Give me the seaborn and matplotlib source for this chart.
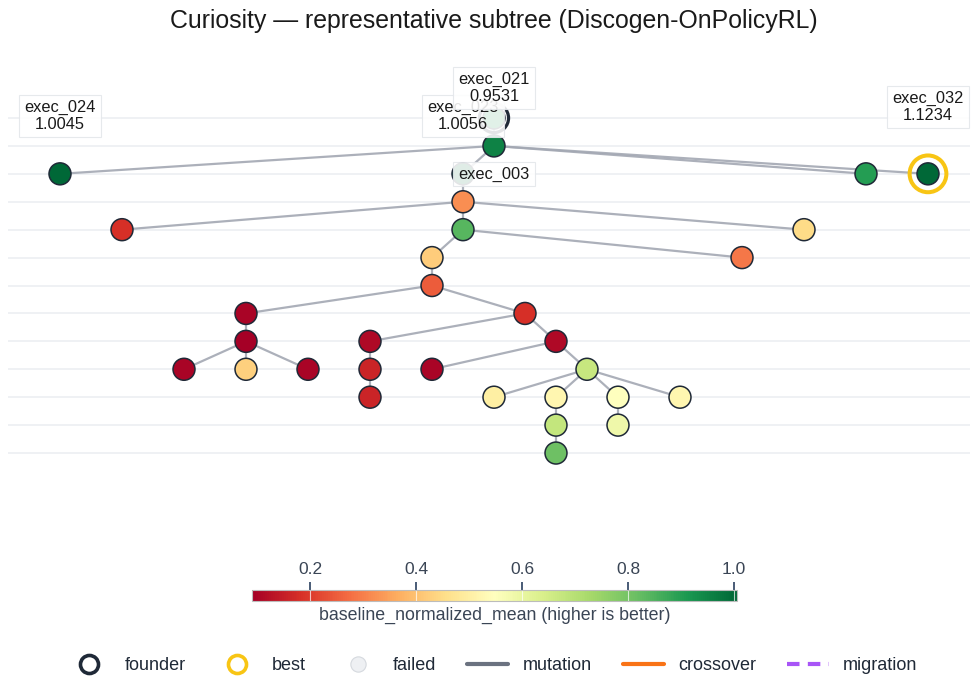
import matplotlib
matplotlib.use("Agg")
import matplotlib.pyplot as plt
from matplotlib.colors import Normalize
from matplotlib.cm import ScalarMappable
from matplotlib.lines import Line2D
import seaborn as sns
import pandas as pd

# tree data (child order = list order)
nodes = ["exec_003", "exec_021", "exec_024", "exec_023", "exec_005", "exec_007",
         "exec_009", "exec_011", "exec_013", "exec_014", "exec_016", "exec_018",
         "exec_019", "exec_020", "exec_015", "exec_017", "exec_022", "exec_026",
         "exec_025", "exec_027", "exec_028", "exec_029", "exec_030", "exec_033",
         "exec_035", "exec_031", "exec_034", "exec_036", "exec_012", "exec_010",
         "exec_008", "exec_032"]
parents = [None, "exec_003", "exec_021", "exec_021", "exec_023", "exec_005",
           "exec_005", "exec_009", "exec_011", "exec_013", "exec_014", "exec_016",
           "exec_016", "exec_016", "exec_013", "exec_015", "exec_017", "exec_022",
           "exec_015", "exec_025", "exec_025", "exec_028", "exec_028", "exec_030",
           "exec_033", "exec_028", "exec_031", "exec_028", "exec_009", "exec_005",
           "exec_021", "exec_021"]
scores = [0.93, 0.9531, 1.0045, 1.0056, 0.32, 0.18,
          0.84, 0.42, 0.25, 0.10, 0.0906, 0.10,
          0.43, 0.10, 0.18, 0.11, 0.16, 0.16,
          0.11, 0.10, 0.67, 0.50, 0.52, 0.68,
          0.81, 0.55, 0.585, 0.52, 0.29, 0.45,
          0.90, 1.1234]
edge_kinds = ["mutation"] * (len(nodes) - 1)
labeled = ["exec_024", "exec_023", "exec_021", "exec_032"]
color_range = (0.0906, 1.0056)
title = "Curiosity — representative subtree (Discogen-OnPolicyRL)"
cbar_title = "baseline_normalized_mean (higher is better)"

# ---- layout: leaves get consecutive slots, parents sit at the mean of their leaves
children = {n: [] for n in nodes}
for n, p in zip(nodes, parents):
    if p is not None:
        children[p].append(n)
root = nodes[parents.index(None)]
depth, leaves_of = {}, {}
counter = [0]

def walk(n, d):
    depth[n] = d
    if not children[n]:
        leaves_of[n] = [counter[0]]
        counter[0] += 1
    else:
        leaves_of[n] = []
        for c in children[n]:
            walk(c, d + 1)
            leaves_of[n] += leaves_of[c]

walk(root, 0)
df = pd.DataFrame({
    "node": nodes,
    "parent": parents,
    "value": scores,
    "x": [sum(leaves_of[n]) / len(leaves_of[n]) for n in nodes],
    "depth": [depth[n] for n in nodes],
}).set_index("node", drop=False)
best = df["value"].idxmax()

sns.set_theme(style="white")
plt.rcParams["font.family"] = ["Liberation Sans", "DejaVu Sans"]

W, H = 971, 679
fig = plt.figure(figsize=(W / 100, H / 100), dpi=100)
ax = fig.add_axes([8 / W, 1 - 530 / H, 962 / W, 470 / H])

slot_px, depth_px = 62.0, 27.92
ax.set_xlim(-52 / slot_px, 910 / slot_px)
ax.set_ylim(412 / depth_px, -58 / depth_px)
ax.set_yticks(range(int(df["depth"].max()) + 1))
ax.set_xticks([])
ax.yaxis.grid(True, color="#eef0f3", lw=1.3)
ax.tick_params(left=False, labelleft=False)
for s in ax.spines.values():
    s.set_visible(False)

edge_colors = {"mutation": "#a3a8b3", "crossover": "#f97316", "migration": "#a855f7"}
for (n, row), kind in zip(df.iloc[1:].iterrows(), edge_kinds):
    p = df.loc[row["parent"]]
    ax.plot([p["x"], row["x"]], [p["depth"], row["depth"]], color=edge_colors[kind],
            lw=1.6, alpha=0.9, zorder=1, solid_capstyle="round",
            ls="--" if kind == "migration" else "-")

norm = Normalize(*color_range)
sns.scatterplot(data=df, x="x", y="depth", hue="value", palette="RdYlGn",
                hue_norm=norm, s=250, edgecolor="#1f2937", linewidth=1.1,
                legend=False, ax=ax, zorder=3)
ax.set_xlabel("")
ax.set_ylabel("")

# founder and best rings
r = df.loc[root]
ax.scatter(r["x"], r["depth"], s=440, facecolor="none", edgecolor="#1f2937",
           linewidth=2.3, zorder=4)
b = df.loc[best]
ax.scatter(b["x"], b["depth"], s=700, facecolor="none", edgecolor="#f8c514",
           linewidth=2.9, zorder=4)

box = dict(boxstyle="square,pad=0.3", fc="white", ec="#e3e6ea", lw=0.8, alpha=0.88)
for n in labeled:
    row = df.loc[n]
    dy = 67 if n == best else 58
    ax.annotate(f"{n}\n{row['value']:.4f}", (row["x"], row["depth"]),
                xytext=(0, dy), textcoords="offset pixels", ha="center", va="center",
                fontsize=11.8, color="#1a1a1a", bbox=box, zorder=6, linespacing=1.2)
ax.annotate(root, (r["x"], r["depth"]), xytext=(0, -56), textcoords="offset pixels",
            ha="center", va="center", fontsize=11.8, color="#1a1a1a", bbox=box, zorder=6)

fig.text(494 / W, 1 - 21 / H, title, ha="center", va="center", fontsize=17.9, color="#1a1a1a")

# colorbar
cax = fig.add_axes([252 / W, 1 - 601 / H, 485 / W, 11 / H])
cb = fig.colorbar(ScalarMappable(norm=norm, cmap="RdYlGn"), cax=cax, orientation="horizontal")
cb.set_ticks([0.2, 0.4, 0.6, 0.8, 1.0])
cb.set_ticklabels(["0.2", "0.4", "0.6", "0.8", "1.0"])
cax.xaxis.set_ticks_position("top")
cax.xaxis.set_label_position("bottom")
cax.tick_params(axis="x", length=6, width=1.2, color="#2a3f5f", labelsize=12.5,
                labelcolor="#3a4555", pad=3)
for t in [0.2, 0.4, 0.6, 0.8, 1.0]:
    cax.axvline(t, color="white", lw=0.8, alpha=0.7)
cb.outline.set_edgecolor("#bcbcbc")
cb.outline.set_linewidth(0.8)
cax.set_xlabel(cbar_title, fontsize=12.8, color="#3a4555", labelpad=4)

# legend
handles = [
    Line2D([], [], ls="none", marker="o", ms=13, mfc="white", mec="#1f2937", mew=2.6, label="founder"),
    Line2D([], [], ls="none", marker="o", ms=13, mfc="white", mec="#f8c514", mew=2.6, label="best"),
    Line2D([], [], ls="none", marker="o", ms=11, mfc="#eef0f3", mec="#d5d9de", mew=0.8, label="failed"),
    Line2D([], [], color="#6b7280", lw=3, label="mutation"),
    Line2D([], [], color="#f97316", lw=3, label="crossover"),
    Line2D([], [], color="#a855f7", lw=3, ls=(0, (3, 2)), label="migration"),
]
fig.legend(handles=handles, loc="center", bbox_to_anchor=(493 / W, 1 - 666 / H), ncol=6,
           frameon=False, fontsize=13, handlelength=2.3, handletextpad=0.8,
           columnspacing=1.7, labelcolor="#1f2937")

fig.savefig("out.png", dpi=100)
